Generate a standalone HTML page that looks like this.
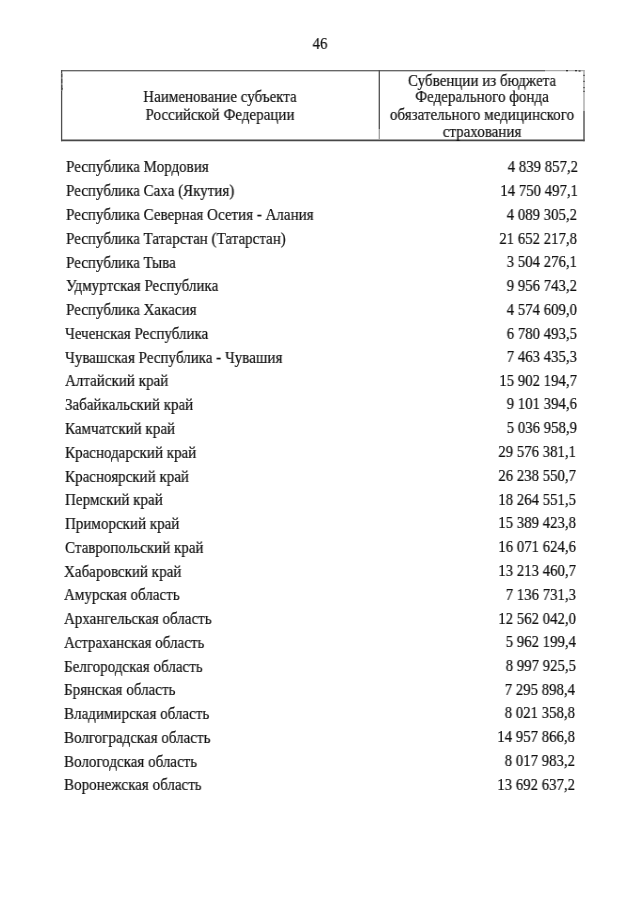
<!DOCTYPE html>
<html><head><meta charset="utf-8">
<style>
html,body{margin:0;padding:0;background:#fff;}
body{width:640px;height:905px;position:relative;overflow:hidden;}
.t{position:absolute;font-family:"Liberation Serif",serif;font-size:16.0px;line-height:20px;white-space:pre;color:#111;-webkit-text-stroke:0.2px #111;transform:scaleX(0.94);will-change:transform;}
.c{text-align:center;}
.n{transform:scaleX(0.925);}
.ln{position:absolute;background:#4a4a4a;}
</style></head><body>
<svg width="640" height="905" style="position:absolute;left:0;top:0">
<line x1="61" y1="70.6" x2="584.6" y2="70.6" stroke="#a9a9a9" stroke-width="1.3"/>
<line x1="61" y1="70.6" x2="545" y2="70.6" stroke="#666" stroke-width="1.3"/>
<line x1="61" y1="140.4" x2="584.6" y2="140.4" stroke="#474747" stroke-width="1.6"/>
<line x1="61.6" y1="70" x2="61.6" y2="141.2" stroke="#505050" stroke-width="1.3"/>
<line x1="379.3" y1="70" x2="379.3" y2="129" stroke="#505050" stroke-width="1.3"/>
<line x1="379.3" y1="129" x2="379.3" y2="140" stroke="#a0a0a0" stroke-width="1.3"/>
<line x1="584" y1="70" x2="584" y2="111" stroke="#a9a9a9" stroke-width="1.4"/>
<line x1="584" y1="111" x2="584" y2="141.2" stroke="#505050" stroke-width="1.4"/>
<g fill="#333"><rect x="583.4" y="74.8" width="1.2" height="1.2"/><rect x="583.4" y="80.8" width="1.2" height="1.2"/><rect x="583.4" y="87" width="1.2" height="1.2"/><rect x="583.4" y="90.8" width="1.2" height="1.2"/><rect x="566" y="70" width="2" height="1.3"/><rect x="575" y="70" width="2" height="1.3"/><rect x="578.6" y="70.4" width="2" height="1.2"/></g>
<line x1="61.6" y1="73" x2="61.6" y2="91" stroke="#7a7a7a" stroke-width="1.3"/>
<g fill="#555"><rect x="61" y="74" width="1.3" height="3"/><rect x="61" y="79" width="1.3" height="4"/><rect x="61" y="85" width="1.3" height="5"/><rect x="61.8" y="88" width="1" height="1.5"/></g>
</svg>
<div class="t n c" style="top:34.30px;left:20.00px;width:600px;transform-origin:50% 0">46</div>
<div class="t c" style="top:86.70px;left:-79.70px;width:600px;transform-origin:50% 0">Наименование субъекта</div>
<div class="t c" style="top:104.90px;left:-79.80px;width:600px;transform-origin:50% 0">Российской Федерации</div>
<div class="t c" style="top:71.10px;left:181.60px;width:600px;transform-origin:50% 0">Субвенции из бюджета</div>
<div class="t c" style="top:87.10px;left:181.60px;width:600px;transform-origin:50% 0">Федерального фонда</div>
<div class="t c" style="top:105.10px;left:181.60px;width:600px;transform-origin:50% 0">обязательного медицинского</div>
<div class="t c" style="top:122.10px;left:181.60px;width:600px;transform-origin:50% 0">страхования</div>
<div class="t" style="top:157.10px;left:66.20px;transform-origin:0 0">Республика Мордовия</div>
<div class="t n" style="top:157.10px;right:62.40px;transform-origin:100% 0">4 839 857,2</div>
<div class="t" style="top:181.10px;left:66.10px;transform-origin:0 0">Республика Саха (Якутия)</div>
<div class="t n" style="top:181.10px;right:62.50px;transform-origin:100% 0">14 750 497,1</div>
<div class="t" style="top:205.10px;left:65.99px;transform-origin:0 0">Республика Северная Осетия - Алания</div>
<div class="t n" style="top:205.10px;right:62.60px;transform-origin:100% 0">4 089 305,2</div>
<div class="t" style="top:229.10px;left:65.89px;transform-origin:0 0">Республика Татарстан (Татарстан)</div>
<div class="t n" style="top:229.10px;right:62.70px;transform-origin:100% 0">21 652 217,8</div>
<div class="t" style="top:253.10px;left:65.78px;transform-origin:0 0">Республика Тыва</div>
<div class="t n" style="top:252.10px;right:62.80px;transform-origin:100% 0">3 504 276,1</div>
<div class="t" style="top:276.10px;left:65.68px;transform-origin:0 0">Удмуртская Республика</div>
<div class="t n" style="top:276.10px;right:62.90px;transform-origin:100% 0">9 956 743,2</div>
<div class="t" style="top:300.10px;left:65.58px;transform-origin:0 0">Республика Хакасия</div>
<div class="t n" style="top:300.10px;right:63.00px;transform-origin:100% 0">4 574 609,0</div>
<div class="t" style="top:324.10px;left:65.47px;transform-origin:0 0">Чеченская Республика</div>
<div class="t n" style="top:324.10px;right:63.10px;transform-origin:100% 0">6 780 493,5</div>
<div class="t" style="top:348.10px;left:65.37px;transform-origin:0 0">Чувашская Республика - Чувашия</div>
<div class="t n" style="top:347.10px;right:63.20px;transform-origin:100% 0">7 463 435,3</div>
<div class="t" style="top:371.10px;left:65.27px;transform-origin:0 0">Алтайский край</div>
<div class="t n" style="top:371.10px;right:63.30px;transform-origin:100% 0">15 902 194,7</div>
<div class="t" style="top:395.10px;left:65.16px;transform-origin:0 0">Забайкальский край</div>
<div class="t n" style="top:394.10px;right:63.40px;transform-origin:100% 0">9 101 394,6</div>
<div class="t" style="top:419.10px;left:65.06px;transform-origin:0 0">Камчатский край</div>
<div class="t n" style="top:418.10px;right:63.50px;transform-origin:100% 0">5 036 958,9</div>
<div class="t" style="top:443.10px;left:64.95px;transform-origin:0 0">Краснодарский край</div>
<div class="t n" style="top:442.10px;right:63.60px;transform-origin:100% 0">29 576 381,1</div>
<div class="t" style="top:467.10px;left:64.85px;transform-origin:0 0">Красноярский край</div>
<div class="t n" style="top:466.10px;right:63.70px;transform-origin:100% 0">26 238 550,7</div>
<div class="t" style="top:490.10px;left:64.75px;transform-origin:0 0">Пермский край</div>
<div class="t n" style="top:490.10px;right:63.80px;transform-origin:100% 0">18 264 551,5</div>
<div class="t" style="top:514.10px;left:64.64px;transform-origin:0 0">Приморский край</div>
<div class="t n" style="top:513.10px;right:63.90px;transform-origin:100% 0">15 389 423,8</div>
<div class="t" style="top:538.10px;left:64.54px;transform-origin:0 0">Ставропольский край</div>
<div class="t n" style="top:537.10px;right:64.00px;transform-origin:100% 0">16 071 624,6</div>
<div class="t" style="top:562.10px;left:64.43px;transform-origin:0 0">Хабаровский край</div>
<div class="t n" style="top:561.10px;right:64.10px;transform-origin:100% 0">13 213 460,7</div>
<div class="t" style="top:585.10px;left:64.33px;transform-origin:0 0">Амурская область</div>
<div class="t n" style="top:585.10px;right:64.20px;transform-origin:100% 0">7 136 731,3</div>
<div class="t" style="top:609.10px;left:64.23px;transform-origin:0 0">Архангельская область</div>
<div class="t n" style="top:609.10px;right:64.30px;transform-origin:100% 0">12 562 042,0</div>
<div class="t" style="top:633.10px;left:64.12px;transform-origin:0 0">Астраханская область</div>
<div class="t n" style="top:632.10px;right:64.40px;transform-origin:100% 0">5 962 199,4</div>
<div class="t" style="top:657.10px;left:64.02px;transform-origin:0 0">Белгородская область</div>
<div class="t n" style="top:656.10px;right:64.50px;transform-origin:100% 0">8 997 925,5</div>
<div class="t" style="top:680.10px;left:63.92px;transform-origin:0 0">Брянская область</div>
<div class="t n" style="top:680.10px;right:64.60px;transform-origin:100% 0">7 295 898,4</div>
<div class="t" style="top:704.10px;left:63.81px;transform-origin:0 0">Владимирская область</div>
<div class="t n" style="top:703.10px;right:64.70px;transform-origin:100% 0">8 021 358,8</div>
<div class="t" style="top:728.10px;left:63.71px;transform-origin:0 0">Волгоградская область</div>
<div class="t n" style="top:727.10px;right:64.80px;transform-origin:100% 0">14 957 866,8</div>
<div class="t" style="top:752.10px;left:63.60px;transform-origin:0 0">Вологодская область</div>
<div class="t n" style="top:751.10px;right:64.90px;transform-origin:100% 0">8 017 983,2</div>
<div class="t" style="top:775.10px;left:63.50px;transform-origin:0 0">Воронежская область</div>
<div class="t n" style="top:775.10px;right:65.00px;transform-origin:100% 0">13 692 637,2</div>
</body></html>
